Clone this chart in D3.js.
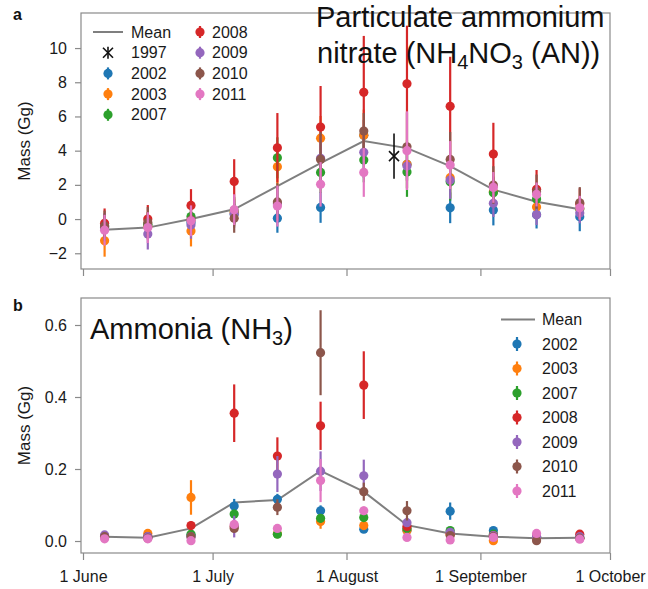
<!DOCTYPE html>
<html><head><meta charset="utf-8">
<script src="https://cdn.jsdelivr.net/npm/d3@7"></script>
<style>body{margin:0;background:#fff}svg{display:block;font-family:"Liberation Sans",Arial,sans-serif}</style>
</head><body>
<svg id="chart" width="648" height="589"></svg>
<script>
// ---------- data ----------
const periods = ["2001-06-06","2001-06-16","2001-06-26","2001-07-06","2001-07-16","2001-07-26","2001-08-05","2001-08-15","2001-08-25","2001-09-04","2001-09-14","2001-09-24"];
const years = ["2002","2003","2007","2008","2009","2010","2011"];
const colors = ["#1f77b4","#ff7f0e","#2ca02c","#d62728","#9467bd","#8c564b","#e377c2"];
const xTickLabels = ["1 June","1 July","1 August","1 September","1 October"];
const xTickDates = ["2001-06-01","2001-07-01","2001-08-01","2001-09-01","2001-10-01"];

// Panel a: particulate ammonium nitrate (Gg)
const anMean = [-0.62,-0.5,0.0,0.57,1.93,3.27,4.56,4.15,3.1,1.72,1.01,0.58];
const an2002 = [-0.5,-0.35,-0.2,0.3,0.05,0.68,4.9,3.2,0.66,0.53,0.25,0.14];
const an2003 = [-1.27,-0.4,-0.7,0.4,3.06,4.73,4.9,3.2,2.42,1.6,0.7,0.6];
const an2007 = [-0.4,-0.3,0.15,0.5,3.58,2.73,3.45,2.75,2.18,1.54,1.17,0.6];
const an2008 = [-0.25,0.0,0.8,2.2,4.17,5.38,7.41,7.91,6.59,3.8,1.74,0.9];
const an2009 = [-0.45,-0.88,-0.35,0.3,0.9,3.55,3.9,3.1,2.28,0.92,0.25,0.35];
const an2010 = [-0.4,-0.2,-0.05,0.05,1.0,3.49,5.15,4.23,3.49,1.99,1.6,0.95];
const an2011 = [-0.65,-0.5,-0.1,0.55,0.76,2.03,2.73,4.0,3.16,1.85,1.44,0.66];
const anErr2002 = [0.6,0.6,0.6,0.6,0.85,0.9,0.9,0.9,0.9,0.9,0.8,0.85];
const anErr2003 = [0.93,0.8,0.9,0.8,1.1,1.3,1.5,1.4,1.2,0.9,0.7,0.6];
const anErr2007 = [0.7,0.7,0.7,0.8,1.2,1.2,1.3,1.45,1.1,0.9,0.7,0.6];
const anErr2008 = [0.87,0.82,0.95,1.3,2.03,2.4,3.3,3.4,2.9,1.83,1.13,0.9];
const anErr2009 = [0.8,0.9,0.8,0.8,1.0,1.3,1.5,1.3,1.1,0.8,0.6,0.6];
const anErr2010 = [0.9,0.9,0.8,0.85,1.1,1.6,1.05,2.0,1.6,1.1,1.0,0.92];
const anErr2011 = [0.9,0.9,0.9,0.9,1.2,1.3,1.43,2.3,1.4,0.9,0.7,0.7];
const an1997Date = "2001-08-12";
const an1997 = 3.68;
const an1997Err = 1.32;
const anTicks = [-2,0,2,4,6,8,10];

// Panel b: ammonia (Gg)
const nhMean = [0.012,0.009,0.035,0.107,0.114,0.195,0.137,0.044,0.021,0.012,0.008,0.009];
const nh2002 = [0.012,0.01,0.015,0.097,0.116,0.084,0.033,0.03,0.083,0.029,0.012,0.008];
const nh2003 = [0.012,0.021,0.121,0.04,0.02,0.054,0.043,0.029,0.018,0.001,0.008,0.008];
const nh2007 = [0.012,0.012,0.019,0.075,0.019,0.063,0.065,0.035,0.029,0.019,0.01,0.009];
const nh2008 = [0.012,0.012,0.043,0.355,0.236,0.32,0.433,0.04,0.02,0.015,0.012,0.019];
const nh2009 = [0.017,0.012,0.012,0.04,0.186,0.194,0.181,0.051,0.024,0.015,0.012,0.012];
const nh2010 = [0.012,0.008,0.012,0.035,0.094,0.523,0.137,0.084,0.015,0.012,0.001,0.008];
const nh2011 = [0.006,0.006,0.001,0.046,0.035,0.168,0.084,0.01,0.003,0.01,0.021,0.005];
const nhErr2002 = [0.005,0.005,0.006,0.02,0.015,0.015,0.008,0.006,0.024,0.007,0.005,0.004];
const nhErr2003 = [0.005,0.006,0.048,0.01,0.006,0.02,0.01,0.008,0.006,0.004,0.004,0.004];
const nhErr2007 = [0.004,0.004,0.008,0.012,0.006,0.012,0.01,0.008,0.006,0.005,0.004,0.004];
const nhErr2008 = [0.004,0.004,0.012,0.08,0.052,0.067,0.094,0.01,0.006,0.005,0.004,0.005];
const nhErr2009 = [0.005,0.004,0.006,0.03,0.05,0.055,0.045,0.012,0.007,0.005,0.004,0.004];
const nhErr2010 = [0.004,0.004,0.006,0.01,0.022,0.118,0.025,0.027,0.006,0.004,0.004,0.004];
const nhErr2011 = [0.004,0.004,0.004,0.01,0.006,0.06,0.012,0.006,0.004,0.004,0.005,0.004];
const nhTicks = [0.0,0.2,0.4,0.6];

// ---------- drawing ----------
const svg = d3.select("#chart");
const parse = d3.utcParse("%Y-%m-%d");
const dates = periods.map(parse);
const frameColor = "#8a8a8a";
const meanColor = "#7f7f7f";
const x = d3.scaleUtc().domain([parse("2001-06-01"), parse("2001-10-01")]).range([83, 610]);

function panel(opts) {
  const g = svg.append("g");
  const y = d3.scaleLinear().domain(opts.domain).range([opts.bottom, opts.top]);
  // frame
  g.append("rect").attr("x", 81).attr("y", opts.top).attr("width", 610 - 81).attr("height", opts.bottom - opts.top)
    .attr("fill", "none").attr("stroke", frameColor).attr("stroke-width", 1.2);
  // y axis
  const ya = d3.axisLeft(y).tickValues(opts.ticks).tickSize(6).tickPadding(8).tickFormat(opts.fmt);
  const yg = g.append("g").attr("transform", "translate(81,0)").call(ya);
  yg.select(".domain").remove();
  yg.selectAll("line").attr("stroke", frameColor).attr("stroke-width", 1.2);
  yg.selectAll("text").attr("font-size", 16).attr("fill", "#1a1a1a").attr("font-family", "Liberation Sans, Arial, sans-serif");
  // x axis
  const xa = d3.axisBottom(x).tickValues(xTickDates.map(parse)).tickSize(7).tickPadding(11)
    .tickFormat((d, i) => opts.xLabels ? xTickLabels[i] : "");
  const xg = g.append("g").attr("transform", `translate(0,${opts.bottom})`).call(xa);
  xg.select(".domain").remove();
  xg.selectAll("line").attr("stroke", frameColor).attr("stroke-width", 1.2);
  xg.selectAll("text").attr("font-size", 16).attr("fill", "#1a1a1a").attr("font-family", "Liberation Sans, Arial, sans-serif");
  // y label
  g.append("text").attr("transform", `translate(30,${(opts.top + opts.bottom) / 2}) rotate(-90)`)
    .attr("text-anchor", "middle").attr("font-size", 17).attr("fill", "#1a1a1a").text("Mass (Gg)");
  // panel letter
  g.append("text").attr("x", 13).attr("y", opts.top + opts.letterDy).attr("font-size", 16).attr("font-weight", "bold")
    .attr("fill", "#111").text(opts.letter);
  // mean line
  g.append("path").datum(opts.mean.map((v, i) => [dates[i], v]))
    .attr("d", d3.line().x(d => x(d[0])).y(d => y(d[1])))
    .attr("fill", "none").attr("stroke", meanColor).attr("stroke-width", 2);
  // series
  opts.series.forEach((s, k) => {
    const sg = g.append("g");
    s.forEach((v, i) => {
      if (v == null) return;
      const e = opts.errs[k][i];
      sg.append("line").attr("x1", x(dates[i])).attr("x2", x(dates[i]))
        .attr("y1", y(v - e)).attr("y2", y(v + e)).attr("stroke", colors[k]).attr("stroke-width", 2.2);
      sg.append("circle").attr("cx", x(dates[i])).attr("cy", y(v)).attr("r", 4.6).attr("fill", colors[k]);
    });
  });
  return { g, y };
}

const A = panel({
  top: 13, bottom: 269, domain: [-2.92, 12.05], ticks: anTicks, fmt: d => d < 0 ? "\u2212" + Math.abs(d) : d,
  xLabels: false, letter: "a", letterDy: 7, mean: anMean,
  series: [an2002, an2003, an2007, an2008, an2009, an2010, an2011],
  errs: [anErr2002, anErr2003, anErr2007, anErr2008, anErr2009, anErr2010, anErr2011]
});
// 1997 asterisk with error bar
(function () {
  const cx = x(parse(an1997Date)), cy = A.y(an1997);
  const g = A.g.append("g").attr("stroke", "#111").attr("stroke-width", 1.6);
  g.append("line").attr("x1", cx).attr("x2", cx).attr("y1", A.y(an1997 - an1997Err)).attr("y2", A.y(an1997 + an1997Err));
  g.append("line").attr("x1", cx - 5).attr("x2", cx + 5).attr("y1", cy - 5).attr("y2", cy + 5);
  g.append("line").attr("x1", cx - 5).attr("x2", cx + 5).attr("y1", cy + 5).attr("y2", cy - 5);
})();

const B = panel({
  top: 298, bottom: 553, domain: [-0.0333, 0.675], ticks: nhTicks, fmt: d3.format(".1f"),
  xLabels: true, letter: "b", letterDy: 13, mean: nhMean,
  series: [nh2002, nh2003, nh2007, nh2008, nh2009, nh2010, nh2011],
  errs: [nhErr2002, nhErr2003, nhErr2007, nhErr2008, nhErr2009, nhErr2010, nhErr2011]
});

// ---------- legends ----------
function legendDot(g, cx, cy, color, half) {
  g.append("line").attr("x1", cx).attr("x2", cx).attr("y1", cy - half).attr("y2", cy + half)
    .attr("stroke", color).attr("stroke-width", 2.2);
  g.append("circle").attr("cx", cx).attr("cy", cy).attr("r", 4.6).attr("fill", color);
}
function legendText(g, tx, cy, t) {
  g.append("text").attr("x", tx).attr("y", cy).attr("dy", "0.35em").attr("font-size", 16).attr("fill", "#1a1a1a").text(t);
}
// legend a
(function () {
  const g = svg.append("g");
  const rows = [32, 52.7, 73.4, 94.1, 114.8];
  g.append("line").attr("x1", 93).attr("x2", 123).attr("y1", rows[0]).attr("y2", rows[0]).attr("stroke", meanColor).attr("stroke-width", 2);
  legendText(g, 131, rows[0], "Mean");
  const s = g.append("g").attr("stroke", "#111").attr("stroke-width", 1.6);
  s.append("line").attr("x1", 108).attr("x2", 108).attr("y1", rows[1] - 6).attr("y2", rows[1] + 6);
  s.append("line").attr("x1", 103).attr("x2", 113).attr("y1", rows[1] - 5).attr("y2", rows[1] + 5);
  s.append("line").attr("x1", 103).attr("x2", 113).attr("y1", rows[1] + 5).attr("y2", rows[1] - 5);
  legendText(g, 131, rows[1], "1997");
  [0, 1, 2].forEach((k, j) => { legendDot(g, 108, rows[j + 2], colors[k], 6); legendText(g, 131, rows[j + 2], years[k]); });
  [3, 4, 5, 6].forEach((k, j) => { legendDot(g, 200, rows[j], colors[k], 6); legendText(g, 212, rows[j], years[k]); });
})();
// legend b
(function () {
  const g = svg.append("g");
  const y0 = 319.5, step = 24.5;
  g.append("line").attr("x1", 501).attr("x2", 535).attr("y1", y0).attr("y2", y0).attr("stroke", meanColor).attr("stroke-width", 2);
  legendText(g, 542, y0, "Mean");
  years.forEach((yr, k) => { legendDot(g, 517, y0 + step * (k + 1), colors[k], 7); legendText(g, 542, y0 + step * (k + 1), yr); });
})();

// ---------- annotations ----------
const t1 = svg.append("text").attr("x", 316).attr("font-size", 29).attr("fill", "#111");
t1.append("tspan").attr("x", 316).attr("y", 27).text("Particulate ammonium");
const l2 = t1.append("tspan").attr("x", 317).attr("y", 63);
l2.text("nitrate (NH");
t1.append("tspan").attr("font-size", 20).attr("dy", 6).text("4");
t1.append("tspan").attr("dy", -6).text("NO");
t1.append("tspan").attr("font-size", 20).attr("dy", 6).text("3");
t1.append("tspan").attr("dy", -6).text(" (AN))");

const t2 = svg.append("text").attr("x", 90).attr("y", 339).attr("font-size", 29).attr("fill", "#111");
t2.append("tspan").text("Ammonia (NH");
t2.append("tspan").attr("font-size", 20).attr("dy", 6).text("3");
t2.append("tspan").attr("dy", -6).text(")");
</script>
</body></html>
